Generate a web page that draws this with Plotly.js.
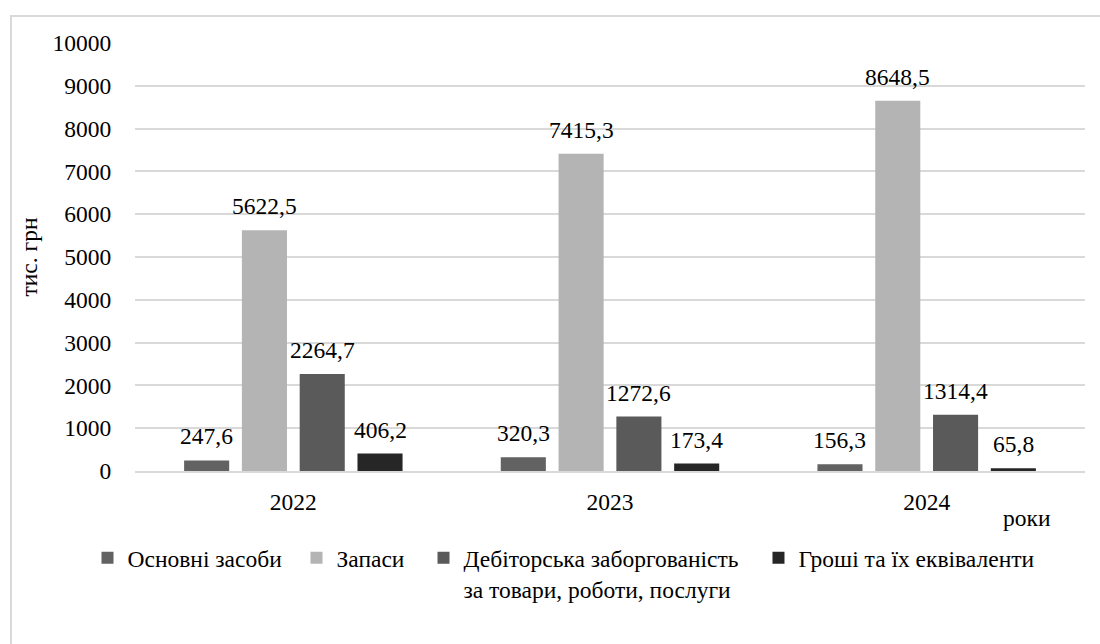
<!DOCTYPE html>
<html>
<head>
<meta charset="utf-8">
<script src="https://cdn.plot.ly/plotly-3.0.1.min.js"></script>
<style>
  html, body { margin: 0; padding: 0; background: #ffffff; }
  #frame { position: absolute; left: 10px; top: 15px; width: 1100px; height: 700px; border: 2px solid #d9d9d9; box-sizing: border-box; }
  #chart { position: absolute; left: 0; top: 0; width: 1100px; height: 644px; }
</style>
</head>
<body>
<div id="frame"></div>
<div id="chart"></div>
<script>
const years = ['2022', '2023', '2024'];
const seriesNames = [
  'Основні засоби',
  'Запаси',
  'Дебіторська заборгованість<br>за товари, роботи, послуги',
  'Гроші та їх еквіваленти'
];
const fixedAssets = [247.6, 320.3, 156.3];
const inventories = [5622.5, 7415.3, 8648.5];
const receivables = [2264.7, 1272.6, 1314.4];
const cash = [406.2, 173.4, 65.8];
const yTicks = [0, 1000, 2000, 3000, 4000, 5000, 6000, 7000, 8000, 9000, 10000];

const seriesValues = [fixedAssets, inventories, receivables, cash];
const colors = ['#626262', '#b4b4b4', '#5a5a5a', '#262626'];
const FONT = 'Liberation Serif';
const FS = 23.5;

const W = 1100, H = 644;
const mL = 135, mR = 15, mT = 43, mB = 173;
const bargap = 0.27, bargroupgap = 0.22;
const plotW = W - mL - mR;
const catW = plotW / years.length;
const slotW = (1 - bargap) * catW / seriesValues.length;

// one legend box per series, placed side by side like the reference
const legendNames = ['legend', 'legend2', 'legend3', 'legend4'];
const legendX = [-0.05, 0.17, 0.3037, 0.6563];

const traces = seriesValues.map((vals, i) => ({
  type: 'bar',
  name: seriesNames[i],
  x: years,
  y: vals,
  legend: legendNames[i],
  marker: {color: colors[i]}
}));

const annotations = [];
seriesValues.forEach((vals, i) => {
  vals.forEach((v, j) => {
    annotations.push({
      x: j, y: v, xref: 'x', yref: 'y',
      text: v.toFixed(1).replace('.', ','),
      showarrow: false,
      xanchor: 'center', yanchor: 'bottom',
      xshift: (i - (seriesValues.length - 1) / 2) * slotW,
      yshift: 9,
      font: {family: FONT, size: FS, color: '#000000'}
    });
  });
});
annotations.push({
  xref: 'paper', yref: 'paper', x: (1027 - mL) / plotW, y: -0.11,
  text: 'роки', showarrow: false, xanchor: 'center', yanchor: 'middle',
  font: {family: FONT, size: FS, color: '#000000'}
});

const layout = {
  width: W, height: H,
  margin: {l: mL, r: mR, t: mT, b: mB, pad: 0},
  paper_bgcolor: 'rgba(0,0,0,0)',
  plot_bgcolor: 'rgba(0,0,0,0)',
  barmode: 'group',
  bargap: bargap,
  bargroupgap: bargroupgap,
  font: {family: FONT, size: FS, color: '#000000'},
  xaxis: {
    type: 'category',
    showgrid: false,
    showline: true, linecolor: '#d9d9d9', linewidth: 2,
    ticks: 'outside', ticklen: 9, tickcolor: 'rgba(0,0,0,0)',
    tickfont: {family: FONT, size: FS, color: '#000000'}
  },
  yaxis: {
    range: [0, 10000],
    tickmode: 'array',
    tickvals: yTicks,
    ticktext: yTicks.map(String),
    showgrid: true, gridcolor: '#d9d9d9', gridwidth: 2,
    zeroline: false, showline: false,
    ticks: 'outside', ticklen: 18, tickcolor: 'rgba(0,0,0,0)',
    tickfont: {family: FONT, size: FS, color: '#000000'},
    title: {text: 'тис. грн', standoff: 8, font: {family: FONT, size: FS, color: '#000000'}}
  },
  showlegend: true,
  annotations: annotations
};
legendNames.forEach((ln, i) => {
  layout[ln] = {
    orientation: 'h',
    x: legendX[i], xanchor: 'left',
    y: -0.152, yanchor: 'top',
    valign: 'top',
    font: {family: FONT, size: 23.5, color: '#000000'},
    bgcolor: 'rgba(0,0,0,0)'
  };
});

Plotly.newPlot('chart', traces, layout, {displayModeBar: false});
</script>
</body>
</html>
